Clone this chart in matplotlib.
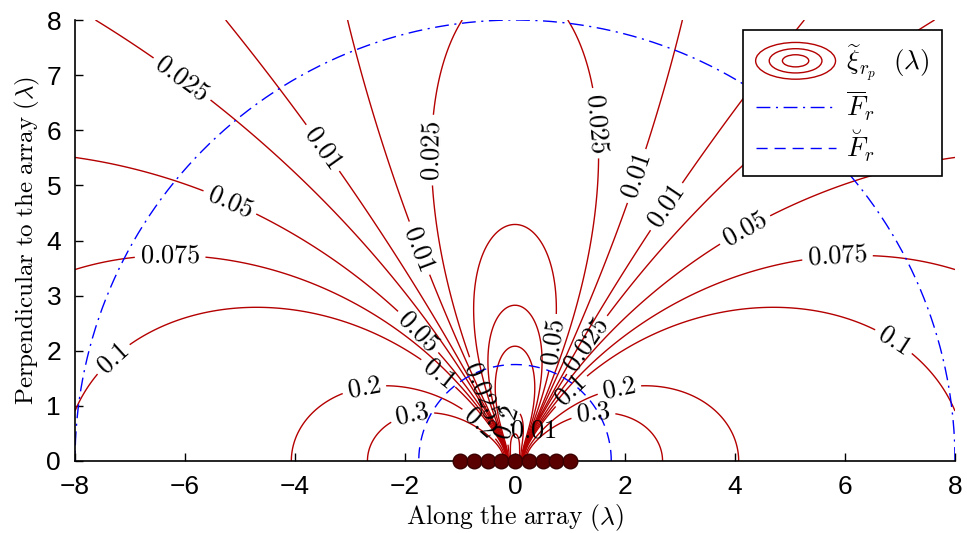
import numpy as np
import matplotlib
matplotlib.use('Agg')
import matplotlib.pyplot as plt
from matplotlib.lines import Line2D
from matplotlib.patches import Ellipse
from matplotlib.legend_handler import HandlerBase

plt.rcParams['mathtext.fontset'] = 'cm'
plt.rcParams['font.family'] = ['Liberation Sans', 'DejaVu Sans']

# array elements (in wavelengths), 9 elements over D = 2 lambda
elem_x = [-1.0, -0.75, -0.5, -0.25, 0.0, 0.25, 0.5, 0.75, 1.0]
elem_y = [0, 0, 0, 0, 0, 0, 0, 0, 0]

# contour levels shown on the chart
levels = [0.01, 0.025, 0.05, 0.075, 0.1, 0.2, 0.3]

# coefficients:
# endfire crossings 0.3 @ 2.76, 0.2 @ 4.09, 0.1 @ 8  -> ~0.82 / r
# broadside loop tops 0.05 @ 4.3, 0.075 @ 2.8, 0.1 @ 2.05 -> ~0.215 / r
endfire_coef = 0.82
broadside_gain = 1.04
core = 0.3

# Fraunhofer and Fresnel distances (lambda)
fraunhofer_r = 8.0
fresnel_r = 1.75

# label anchor points (data coords)
label_pos = [(-6.09, 6.88), (-3.55, 5.64), (-5.22, 4.61), (-6.27, 3.59), (-7.24, 1.78),
             (-2.73, 1.25), (-1.87, 0.83), (-1.55, 5.64), (-1.82, 3.83), (-1.67, 2.43),
             (-1.45, 1.52), (-0.58, 1.29), (-0.64, 0.69), (-0.09, 0.69), (0.33, 0.56),
             (0.76, 2.14), (1.36, 2.07), (1.0, 1.29), (1.42, 0.87), (1.91, 1.23),
             (1.49, 6.13), (2.27, 5.15), (2.76, 4.61), (4.15, 4.25), (5.87, 3.59),
             (6.82, 2.07)]

red = '#b40000'

xg = np.linspace(-8, 8, 801)
yg = np.linspace(1e-3, 8, 401)
X, Y = np.meshgrid(xg, yg)
R = np.hypot(X, Y)
u = np.array(elem_x)
Rp = np.sqrt((X[..., None] - u) ** 2 + Y[..., None] ** 2)
term_broad = broadside_gain * (Rp.mean(axis=-1) - R)
term_end = endfire_coef * X ** 2 / (R ** 2 + core ** 2) ** 1.5
Z = np.abs(term_broad - term_end)

fig = plt.figure(figsize=(9.67, 5.33), dpi=100)
ax = fig.add_axes([75 / 967, 1 - 461 / 533, 880 / 967, 441 / 533])

cs = ax.contour(X, Y, Z, levels=levels, colors=red, linewidths=1.0)
ax.clabel(cs, levels, inline=True, fontsize=19, colors='black', manual=label_pos,
          fmt=lambda v: r'$%s$' % ('%g' % v))

th = np.linspace(0, np.pi, 400)
ax.plot(fraunhofer_r * np.cos(th), fraunhofer_r * np.sin(th), color='blue',
        lw=1.0, dashes=(10, 4, 1.5, 4))
ax.plot(fresnel_r * np.cos(th), fresnel_r * np.sin(th), color='blue',
        lw=1.0, dashes=(8, 5))
ax.plot(elem_x, elem_y, 'o', color='#5a0000', mec='#3a0000', ms=10.5, clip_on=False, zorder=5)

ax.set_xlim(-8, 8)
ax.set_ylim(0, 8)
ax.set_xticks(np.arange(-8, 9, 2))
ax.set_yticks(np.arange(0, 9, 1))
ax.spines['top'].set_visible(False)
ax.spines['right'].set_visible(False)
for s in ('left', 'bottom'):
    ax.spines[s].set_linewidth(1.2)
ax.tick_params(direction='in', length=6, width=1, labelsize=19, pad=10)
ax.set_xlabel(r'$\mathrm{Along\ the\ array}\ (\lambda)$', fontsize=18.5, labelpad=2)
ax.set_ylabel(r'$\mathrm{Perpendicular\ to\ the\ array}\ (\lambda)$', fontsize=18, labelpad=3)


class EllipseHandler(HandlerBase):
    def create_artists(self, legend, orig_handle, xdescent, ydescent, width, height, fontsize, trans):
        cx = 0.5 * width - xdescent
        cy = 0.5 * height - ydescent
        arts = []
        for f in (1.0, 0.66, 0.33):
            e = Ellipse((cx, cy), width * f, width * 0.46 * f, fill=False, ec=red, lw=1.0)
            e.set_transform(trans)
            arts.append(e)
        return arts


proxy = Line2D([], [], color=red)
h2 = Line2D([], [], color='blue', lw=1.0, dashes=(10, 4, 1.5, 4))
h3 = Line2D([], [], color='blue', lw=1.0, dashes=(8, 5))
leg = ax.legend([proxy, h2, h3],
                [r'$\widetilde{\xi}_{r_p}\ \ (\lambda)$', r'$\overline{F}_r$', r'$\breve{F}_r$'],
                handler_map={proxy: EllipseHandler()}, loc='upper right',
                bbox_to_anchor=(0.985, 0.977), borderaxespad=0, fontsize=19.5,
                handlelength=2.95, fancybox=False, framealpha=1, labelspacing=0.2,
                borderpad=0.45, handletextpad=0.4)
leg.get_frame().set_edgecolor('black')
leg.get_frame().set_linewidth(1.2)

fig.savefig('out.png', dpi=100)
